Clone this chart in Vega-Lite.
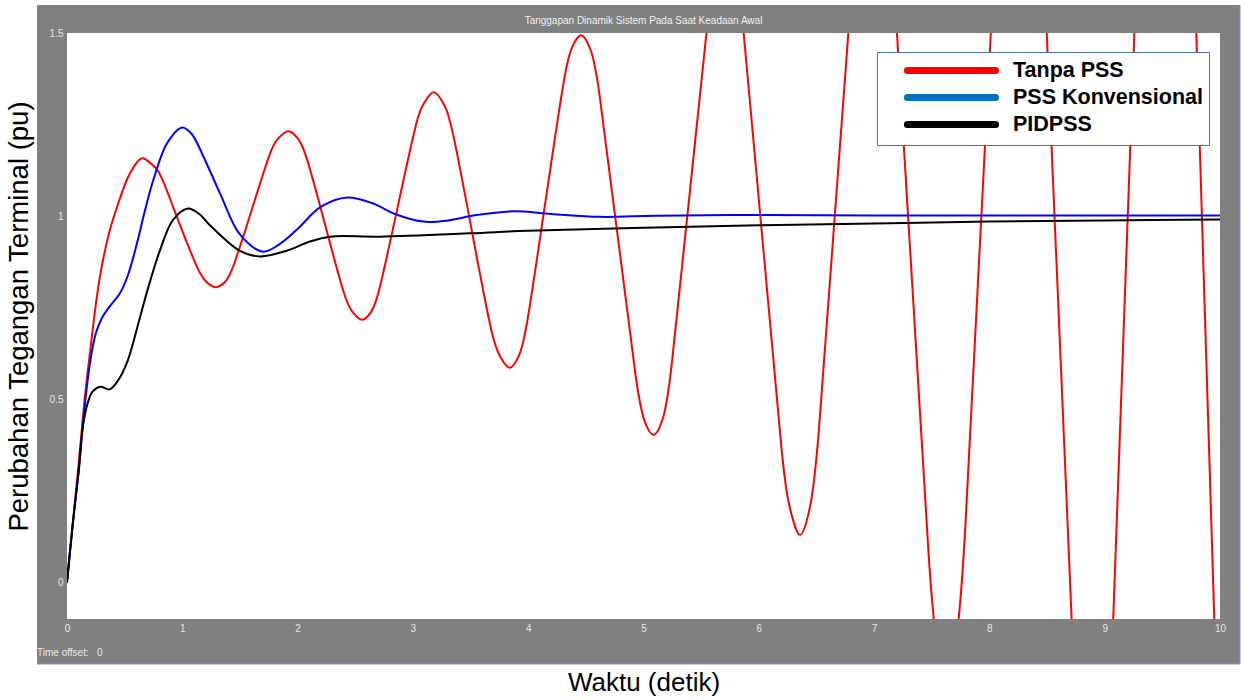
{
  "$schema": "https://vega.github.io/schema/vega-lite/v6.json",
  "width": 1153,
  "height": 586,
  "autosize": {"type": "none"},
  "padding": {"left": 67, "top": 33, "right": 21, "bottom": 81},
  "background": "white",
  "title": {"text": "Tanggapan Dinamik Sistem Pada Saat Keadaan Awal", "fontSize": 10, "font": "Liberation Sans", "fontWeight": "normal", "color": "#f0f0f0", "offset": 5, "dy": 27, "anchor": "middle", "frame": "group", "zindex": 1},
  "config": {"view": {"stroke": null}},
  "datasets": {
    "curves": [
      {"s": "Tanpa PSS", "t": 0, "v": 0},
      {"s": "Tanpa PSS", "t": 0.05, "v": 0.16},
      {"s": "Tanpa PSS", "t": 0.1, "v": 0.32},
      {"s": "Tanpa PSS", "t": 0.15, "v": 0.49},
      {"s": "Tanpa PSS", "t": 0.2, "v": 0.63},
      {"s": "Tanpa PSS", "t": 0.25, "v": 0.76},
      {"s": "Tanpa PSS", "t": 0.3, "v": 0.86},
      {"s": "Tanpa PSS", "t": 0.37, "v": 0.96},
      {"s": "Tanpa PSS", "t": 0.45, "v": 1.04},
      {"s": "Tanpa PSS", "t": 0.52, "v": 1.1},
      {"s": "Tanpa PSS", "t": 0.59, "v": 1.14},
      {"s": "Tanpa PSS", "t": 0.66, "v": 1.158},
      {"s": "Tanpa PSS", "t": 0.74, "v": 1.14},
      {"s": "Tanpa PSS", "t": 0.82, "v": 1.105},
      {"s": "Tanpa PSS", "t": 0.975, "v": 0.98},
      {"s": "Tanpa PSS", "t": 1.13, "v": 0.86},
      {"s": "Tanpa PSS", "t": 1.21, "v": 0.82},
      {"s": "Tanpa PSS", "t": 1.29, "v": 0.806},
      {"s": "Tanpa PSS", "t": 1.37, "v": 0.82},
      {"s": "Tanpa PSS", "t": 1.45, "v": 0.87},
      {"s": "Tanpa PSS", "t": 1.605, "v": 1.02},
      {"s": "Tanpa PSS", "t": 1.76, "v": 1.17},
      {"s": "Tanpa PSS", "t": 1.84, "v": 1.215},
      {"s": "Tanpa PSS", "t": 1.92, "v": 1.232},
      {"s": "Tanpa PSS", "t": 2.0, "v": 1.213},
      {"s": "Tanpa PSS", "t": 2.08, "v": 1.157},
      {"s": "Tanpa PSS", "t": 2.24, "v": 0.975},
      {"s": "Tanpa PSS", "t": 2.4, "v": 0.792},
      {"s": "Tanpa PSS", "t": 2.48, "v": 0.737},
      {"s": "Tanpa PSS", "t": 2.56, "v": 0.717},
      {"s": "Tanpa PSS", "t": 2.64, "v": 0.74},
      {"s": "Tanpa PSS", "t": 2.715, "v": 0.808},
      {"s": "Tanpa PSS", "t": 2.87, "v": 1.028},
      {"s": "Tanpa PSS", "t": 3.025, "v": 1.247},
      {"s": "Tanpa PSS", "t": 3.1, "v": 1.31},
      {"s": "Tanpa PSS", "t": 3.18, "v": 1.338},
      {"s": "Tanpa PSS", "t": 3.26, "v": 1.31},
      {"s": "Tanpa PSS", "t": 3.345, "v": 1.228},
      {"s": "Tanpa PSS", "t": 3.51, "v": 0.962},
      {"s": "Tanpa PSS", "t": 3.675, "v": 0.696},
      {"s": "Tanpa PSS", "t": 3.76, "v": 0.615},
      {"s": "Tanpa PSS", "t": 3.84, "v": 0.586},
      {"s": "Tanpa PSS", "t": 3.92, "v": 0.62},
      {"s": "Tanpa PSS", "t": 3.995, "v": 0.719},
      {"s": "Tanpa PSS", "t": 4.15, "v": 1.04},
      {"s": "Tanpa PSS", "t": 4.305, "v": 1.361},
      {"s": "Tanpa PSS", "t": 4.38, "v": 1.46},
      {"s": "Tanpa PSS", "t": 4.46, "v": 1.494},
      {"s": "Tanpa PSS", "t": 4.54, "v": 1.455},
      {"s": "Tanpa PSS", "t": 4.6175, "v": 1.334},
      {"s": "Tanpa PSS", "t": 4.775, "v": 0.9485},
      {"s": "Tanpa PSS", "t": 4.9325, "v": 0.563},
      {"s": "Tanpa PSS", "t": 5.01, "v": 0.44},
      {"s": "Tanpa PSS", "t": 5.09, "v": 0.403},
      {"s": "Tanpa PSS", "t": 5.17, "v": 0.45},
      {"s": "Tanpa PSS", "t": 5.245, "v": 0.596},
      {"s": "Tanpa PSS", "t": 5.4, "v": 1.06},
      {"s": "Tanpa PSS", "t": 5.555, "v": 1.527},
      {"s": "Tanpa PSS", "t": 5.63, "v": 1.67},
      {"s": "Tanpa PSS", "t": 5.71, "v": 1.72},
      {"s": "Tanpa PSS", "t": 5.79, "v": 1.66},
      {"s": "Tanpa PSS", "t": 5.8725, "v": 1.487},
      {"s": "Tanpa PSS", "t": 6.035, "v": 0.925},
      {"s": "Tanpa PSS", "t": 6.1975, "v": 0.363},
      {"s": "Tanpa PSS", "t": 6.28, "v": 0.19},
      {"s": "Tanpa PSS", "t": 6.36, "v": 0.13},
      {"s": "Tanpa PSS", "t": 6.44, "v": 0.2},
      {"s": "Tanpa PSS", "t": 6.52, "v": 0.411},
      {"s": "Tanpa PSS", "t": 6.68, "v": 1.09},
      {"s": "Tanpa PSS", "t": 6.84, "v": 1.769},
      {"s": "Tanpa PSS", "t": 6.92, "v": 1.98},
      {"s": "Tanpa PSS", "t": 7.0, "v": 2.05},
      {"s": "Tanpa PSS", "t": 7.08, "v": 1.96},
      {"s": "Tanpa PSS", "t": 7.1575, "v": 1.712},
      {"s": "Tanpa PSS", "t": 7.315, "v": 0.895},
      {"s": "Tanpa PSS", "t": 7.4725, "v": 0.078},
      {"s": "Tanpa PSS", "t": 7.55, "v": -0.17},
      {"s": "Tanpa PSS", "t": 7.63, "v": -0.26},
      {"s": "Tanpa PSS", "t": 7.71, "v": -0.16},
      {"s": "Tanpa PSS", "t": 7.79, "v": 0.144},
      {"s": "Tanpa PSS", "t": 7.95, "v": 1.12},
      {"s": "Tanpa PSS", "t": 8.11, "v": 2.096},
      {"s": "Tanpa PSS", "t": 8.19, "v": 2.39},
      {"s": "Tanpa PSS", "t": 8.27, "v": 2.5},
      {"s": "Tanpa PSS", "t": 8.35, "v": 2.38},
      {"s": "Tanpa PSS", "t": 8.4275, "v": 2.017},
      {"s": "Tanpa PSS", "t": 8.585, "v": 0.85},
      {"s": "Tanpa PSS", "t": 8.7425, "v": -0.317},
      {"s": "Tanpa PSS", "t": 8.82, "v": -0.68},
      {"s": "Tanpa PSS", "t": 8.9, "v": -0.8},
      {"s": "Tanpa PSS", "t": 8.98, "v": -0.66},
      {"s": "Tanpa PSS", "t": 9.06, "v": -0.222},
      {"s": "Tanpa PSS", "t": 9.22, "v": 1.175},
      {"s": "Tanpa PSS", "t": 9.38, "v": 2.572},
      {"s": "Tanpa PSS", "t": 9.46, "v": 3.0},
      {"s": "Tanpa PSS", "t": 9.54, "v": 3.15},
      {"s": "Tanpa PSS", "t": 9.62, "v": 3.0},
      {"s": "Tanpa PSS", "t": 9.6975, "v": 2.483},
      {"s": "Tanpa PSS", "t": 9.855, "v": 0.875},
      {"s": "Tanpa PSS", "t": 10.0125, "v": -0.733},
      {"s": "PSS Konvensional", "t": 0, "v": 0},
      {"s": "PSS Konvensional", "t": 0.05, "v": 0.16},
      {"s": "PSS Konvensional", "t": 0.1, "v": 0.3},
      {"s": "PSS Konvensional", "t": 0.15, "v": 0.47},
      {"s": "PSS Konvensional", "t": 0.2, "v": 0.6},
      {"s": "PSS Konvensional", "t": 0.25, "v": 0.68},
      {"s": "PSS Konvensional", "t": 0.3, "v": 0.72},
      {"s": "PSS Konvensional", "t": 0.37, "v": 0.753},
      {"s": "PSS Konvensional", "t": 0.46, "v": 0.79},
      {"s": "PSS Konvensional", "t": 0.53, "v": 0.84},
      {"s": "PSS Konvensional", "t": 0.61, "v": 0.93},
      {"s": "PSS Konvensional", "t": 0.68, "v": 1.02},
      {"s": "PSS Konvensional", "t": 0.75, "v": 1.1},
      {"s": "PSS Konvensional", "t": 0.87, "v": 1.2},
      {"s": "PSS Konvensional", "t": 1.0, "v": 1.242},
      {"s": "PSS Konvensional", "t": 1.08, "v": 1.225},
      {"s": "PSS Konvensional", "t": 1.18, "v": 1.165},
      {"s": "PSS Konvensional", "t": 1.33, "v": 1.06},
      {"s": "PSS Konvensional", "t": 1.5, "v": 0.95},
      {"s": "PSS Konvensional", "t": 1.7, "v": 0.903},
      {"s": "PSS Konvensional", "t": 1.85, "v": 0.925},
      {"s": "PSS Konvensional", "t": 2.0, "v": 0.965},
      {"s": "PSS Konvensional", "t": 2.2, "v": 1.025},
      {"s": "PSS Konvensional", "t": 2.43, "v": 1.051},
      {"s": "PSS Konvensional", "t": 2.65, "v": 1.035},
      {"s": "PSS Konvensional", "t": 2.85, "v": 1.005},
      {"s": "PSS Konvensional", "t": 3.09, "v": 0.985},
      {"s": "PSS Konvensional", "t": 3.3, "v": 0.988},
      {"s": "PSS Konvensional", "t": 3.55, "v": 1.003},
      {"s": "PSS Konvensional", "t": 3.87, "v": 1.013},
      {"s": "PSS Konvensional", "t": 4.2, "v": 1.006},
      {"s": "PSS Konvensional", "t": 4.62, "v": 0.998},
      {"s": "PSS Konvensional", "t": 5.1, "v": 1.001},
      {"s": "PSS Konvensional", "t": 5.75, "v": 1.003},
      {"s": "PSS Konvensional", "t": 7.0, "v": 1.002},
      {"s": "PSS Konvensional", "t": 10.0, "v": 1.002},
      {"s": "PIDPSS", "t": 0, "v": 0},
      {"s": "PIDPSS", "t": 0.05, "v": 0.16},
      {"s": "PIDPSS", "t": 0.1, "v": 0.3},
      {"s": "PIDPSS", "t": 0.14, "v": 0.43},
      {"s": "PIDPSS", "t": 0.18, "v": 0.49},
      {"s": "PIDPSS", "t": 0.22, "v": 0.52},
      {"s": "PIDPSS", "t": 0.29, "v": 0.534},
      {"s": "PIDPSS", "t": 0.37, "v": 0.527},
      {"s": "PIDPSS", "t": 0.44, "v": 0.55},
      {"s": "PIDPSS", "t": 0.52, "v": 0.6},
      {"s": "PIDPSS", "t": 0.63, "v": 0.72},
      {"s": "PIDPSS", "t": 0.7, "v": 0.8},
      {"s": "PIDPSS", "t": 0.81, "v": 0.91},
      {"s": "PIDPSS", "t": 0.92, "v": 0.99},
      {"s": "PIDPSS", "t": 1.05, "v": 1.021},
      {"s": "PIDPSS", "t": 1.15, "v": 1.005},
      {"s": "PIDPSS", "t": 1.24, "v": 0.975},
      {"s": "PIDPSS", "t": 1.5, "v": 0.905},
      {"s": "PIDPSS", "t": 1.67, "v": 0.89},
      {"s": "PIDPSS", "t": 1.9, "v": 0.905},
      {"s": "PIDPSS", "t": 2.1, "v": 0.93},
      {"s": "PIDPSS", "t": 2.28, "v": 0.944},
      {"s": "PIDPSS", "t": 2.71, "v": 0.944},
      {"s": "PIDPSS", "t": 3.5, "v": 0.953},
      {"s": "PIDPSS", "t": 4.0, "v": 0.96},
      {"s": "PIDPSS", "t": 5.0, "v": 0.968},
      {"s": "PIDPSS", "t": 6.0, "v": 0.975},
      {"s": "PIDPSS", "t": 7.0, "v": 0.98},
      {"s": "PIDPSS", "t": 8.0, "v": 0.985},
      {"s": "PIDPSS", "t": 9.0, "v": 0.988},
      {"s": "PIDPSS", "t": 10.0, "v": 0.991}
    ]
  },
  "layer": [
    {
      "data": {"values": [{}]},
      "mark": {"type": "rect", "color": "#808080"},
      "encoding": {
        "x": {"datum": -0.2602, "type": "quantitative", "scale": {"domain": [0, 10], "nice": false, "zero": false}},
        "x2": {"datum": 10.1735},
        "y": {"datum": 1.5765, "type": "quantitative", "scale": {"domain": [-0.1, 1.5], "nice": false, "zero": false}},
        "y2": {"datum": -0.2229}
      }
    },
    {
      "data": {"values": [{}]},
      "mark": {"type": "rule", "color": "#7894c8", "strokeWidth": 1},
      "encoding": {
        "x": {"datum": -0.2602, "type": "quantitative", "scale": {"domain": [0, 10], "nice": false, "zero": false}},
        "x2": {"datum": 10.1735},
        "y": {"datum": -0.2229, "type": "quantitative", "scale": {"domain": [-0.1, 1.5], "nice": false, "zero": false}}
      }
    },
    {
      "data": {"values": [{}]},
      "mark": {"type": "rule", "color": "#7894c8", "strokeWidth": 1},
      "encoding": {
        "x": {"datum": 10.1735, "type": "quantitative", "scale": {"domain": [0, 10], "nice": false, "zero": false}},
        "y": {"datum": -0.2229, "type": "quantitative", "scale": {"domain": [-0.1, 1.5], "nice": false, "zero": false}},
        "y2": {"datum": 1.5765}
      }
    },
    {
      "data": {"values": [{}]},
      "mark": {"type": "rect", "color": "#ffffff"},
      "encoding": {
        "x": {"datum": 0, "type": "quantitative", "scale": {"domain": [0, 10], "nice": false, "zero": false}},
        "x2": {"datum": 10},
        "y": {"datum": 1.5, "type": "quantitative", "scale": {"domain": [-0.1, 1.5], "nice": false, "zero": false}},
        "y2": {"datum": -0.1}
      }
    },
    {
      "data": {"name": "curves"},
      "transform": [{"filter": "datum.s == 'Tanpa PSS'"}],
      "mark": {"type": "line", "strokeWidth": 2, "interpolate": "natural", "clip": true},
      "encoding": {
        "x": {"field": "t", "type": "quantitative", "scale": {"domain": [0, 10], "nice": false, "zero": false}},
        "y": {"field": "v", "type": "quantitative", "scale": {"domain": [-0.1, 1.5], "nice": false, "zero": false}},
        "stroke": {
          "field": "s", "type": "nominal",
          "scale": {"domain": ["PIDPSS", "PSS Konvensional", "Tanpa PSS"], "range": ["#000000", "#0000ff", "#ff0000"]},
          "legend": null
        }
      }
    },
    {
      "data": {"name": "curves"},
      "transform": [{"filter": "datum.s != 'Tanpa PSS'"}],
      "mark": {"type": "line", "strokeWidth": 2, "interpolate": "catmull-rom", "clip": true},
      "encoding": {
        "x": {
          "field": "t", "type": "quantitative",
          "scale": {"domain": [0, 10], "nice": false, "zero": false},
          "axis": {
            "title": "Waktu (detik)", "values": [0, 1, 2, 3, 4, 5, 6, 7, 8, 9, 10], "format": "d",
            "labelFlush": false, "labelOverlap": false, "domain": false, "ticks": false, "grid": false,
            "labelPadding": 4, "labelColor": "#e6e6e6", "labelFontSize": 10, "labelFont": "Liberation Sans",
            "titleFont": "Liberation Sans", "titleFontSize": 26, "titleFontWeight": "normal", "titleColor": "#000000",
            "titleX": 576.5, "titleY": 71, "titleBaseline": "alphabetic", "titleAlign": "center", "zindex": 1
          }
        },
        "y": {
          "field": "v", "type": "quantitative",
          "scale": {"domain": [-0.1, 1.5], "nice": false, "zero": false},
          "axis": {
            "title": "Perubahan Tegangan Terminal (pu)", "values": [0, 0.5, 1, 1.5], "format": "~g",
            "labelFlush": false, "labelOverlap": false, "domain": false, "ticks": false, "grid": false,
            "labelPadding": 4, "labelColor": "#e6e6e6", "labelFontSize": 10, "labelFont": "Liberation Sans",
            "titleFont": "Liberation Sans", "titleFontSize": 27.5, "titleFontWeight": "normal", "titleColor": "#000000",
            "titleX": -40, "titleY": 283, "titleAngle": 270, "titleBaseline": "alphabetic", "titleAlign": "center", "zindex": 1
          }
        },
        "stroke": {
          "field": "s", "type": "nominal",
          "scale": {"domain": ["PIDPSS", "PSS Konvensional", "Tanpa PSS"], "range": ["#000000", "#0000ff", "#ff0000"]},
          "legend": null
        }
      }
    },
    {
      "data": {"name": "curves"},
      "transform": [{"filter": "datum.t == 0"}],
      "mark": {"type": "line", "strokeWidth": 7, "strokeCap": "butt"},
      "encoding": {
        "x": {"field": "t", "type": "quantitative", "scale": {"domain": [0, 10], "nice": false, "zero": false}},
        "y": {"field": "v", "type": "quantitative", "scale": {"domain": [-0.1, 1.5], "nice": false, "zero": false}},
        "color": {
          "field": "s", "type": "nominal",
          "scale": {"domain": ["Tanpa PSS", "PSS Konvensional", "PIDPSS"], "range": ["#ff0000", "#0070c0", "#000000"]},
          "legend": {
            "title": null, "orient": "none", "legendX": 810, "legendY": 19, "zindex": 2,
            "symbolType": "M-4.9,0H4.9", "symbolSize": 324, "symbolStrokeWidth": 7, "symbolOpacity": 1,
            "symbolOffset": 56, "labelOffset": 49,
            "labelFontSize": 21.5, "labelFont": "Liberation Sans", "labelFontWeight": "bold", "labelColor": "#000000", "labelLimit": 400,
            "padding": 6, "rowPadding": -5, "strokeColor": "#4a6ea8", "fillColor": "#ffffff", "cornerRadius": 0,
            "encode": {"symbols": {"update": {"strokeCap": {"value": "round"}}}}
          }
        }
      }
    },
    {
      "data": {"values": [{}]},
      "mark": {"type": "text", "text": "Time offset:\u00a0\u00a0 0", "align": "left", "baseline": "middle", "fontSize": 10, "font": "Liberation Sans", "color": "#e8e8e8"},
      "encoding": {
        "x": {"datum": -0.2602, "type": "quantitative", "scale": {"domain": [0, 10], "nice": false, "zero": false}},
        "y": {"datum": -0.193, "type": "quantitative", "scale": {"domain": [-0.1, 1.5], "nice": false, "zero": false}}
      }
    }
  ]
}
